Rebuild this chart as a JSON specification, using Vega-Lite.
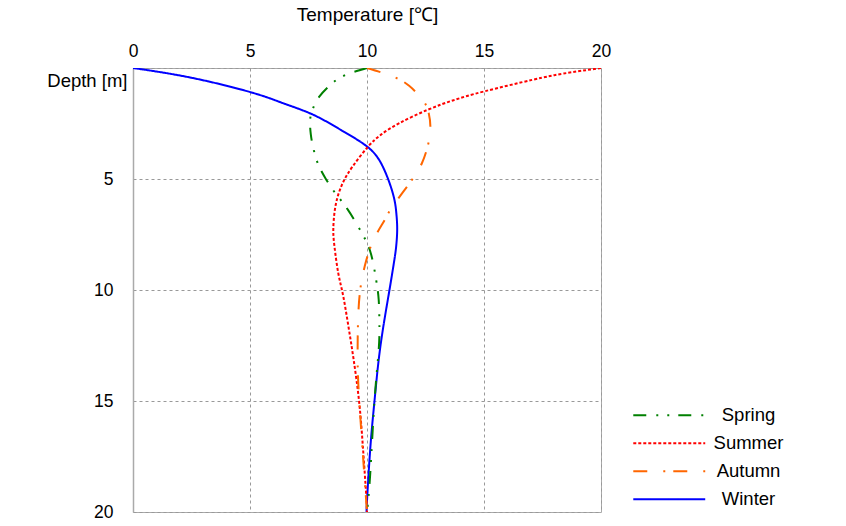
{
  "$schema": "https://vega.github.io/schema/vega-lite/v6.json",
  "autosize": "none",
  "width": 468,
  "height": 444,
  "padding": {"left": 133, "top": 68, "right": 245, "bottom": 14},
  "background": "white",
  "config": {
    "font": "Liberation Sans",
    "view": {"stroke": "#aaaaaa", "strokeWidth": 1}
  },
  "data": {
    "values": [
      {"season": "Winter", "depth": 0, "temp": 0},
      {"season": "Winter", "depth": 0.44, "temp": 2.5},
      {"season": "Winter", "depth": 1.1, "temp": 5.06},
      {"season": "Winter", "depth": 1.6, "temp": 6.45},
      {"season": "Winter", "depth": 2.1, "temp": 7.69},
      {"season": "Winter", "depth": 2.8, "temp": 8.9},
      {"season": "Winter", "depth": 3.56, "temp": 10.03},
      {"season": "Winter", "depth": 4.43, "temp": 10.67},
      {"season": "Winter", "depth": 5.63, "temp": 11.1},
      {"season": "Winter", "depth": 6.5, "temp": 11.25},
      {"season": "Winter", "depth": 7.28, "temp": 11.29},
      {"season": "Winter", "depth": 8.0, "temp": 11.25},
      {"season": "Winter", "depth": 8.64, "temp": 11.17},
      {"season": "Winter", "depth": 10, "temp": 10.96},
      {"season": "Winter", "depth": 11.5, "temp": 10.72},
      {"season": "Winter", "depth": 13.14, "temp": 10.5},
      {"season": "Winter", "depth": 15, "temp": 10.32},
      {"season": "Winter", "depth": 17, "temp": 10.15},
      {"season": "Winter", "depth": 19.3, "temp": 10.01},
      {"season": "Winter", "depth": 20, "temp": 9.98},
      {"season": "Summer", "depth": 0, "temp": 20},
      {"season": "Summer", "depth": 0.25, "temp": 18.4},
      {"season": "Summer", "depth": 0.53, "temp": 17.08},
      {"season": "Summer", "depth": 1.05, "temp": 15.02},
      {"season": "Summer", "depth": 1.45, "temp": 13.7},
      {"season": "Summer", "depth": 1.88, "temp": 12.6},
      {"season": "Summer", "depth": 2.48, "temp": 11.39},
      {"season": "Summer", "depth": 3.0, "temp": 10.6},
      {"season": "Summer", "depth": 3.56, "temp": 10.03},
      {"season": "Summer", "depth": 4.43, "temp": 9.39},
      {"season": "Summer", "depth": 5.1, "temp": 9.0},
      {"season": "Summer", "depth": 5.78, "temp": 8.75},
      {"season": "Summer", "depth": 6.52, "temp": 8.61},
      {"season": "Summer", "depth": 7.3, "temp": 8.56},
      {"season": "Summer", "depth": 8.04, "temp": 8.61},
      {"season": "Summer", "depth": 9.23, "temp": 8.77},
      {"season": "Summer", "depth": 10.2, "temp": 8.97},
      {"season": "Summer", "depth": 11.6, "temp": 9.2},
      {"season": "Summer", "depth": 13.14, "temp": 9.43},
      {"season": "Summer", "depth": 15, "temp": 9.66},
      {"season": "Summer", "depth": 17, "temp": 9.82},
      {"season": "Summer", "depth": 19.3, "temp": 9.97},
      {"season": "Summer", "depth": 20, "temp": 10},
      {"season": "Spring", "depth": 0, "temp": 10},
      {"season": "Spring", "depth": 0.3, "temp": 9.11},
      {"season": "Spring", "depth": 0.7, "temp": 8.5},
      {"season": "Spring", "depth": 1.28, "temp": 7.97},
      {"season": "Spring", "depth": 1.8, "temp": 7.7},
      {"season": "Spring", "depth": 2.33, "temp": 7.57},
      {"season": "Spring", "depth": 3.0, "temp": 7.6},
      {"season": "Spring", "depth": 3.53, "temp": 7.69},
      {"season": "Spring", "depth": 4.3, "temp": 7.9},
      {"season": "Spring", "depth": 5.03, "temp": 8.26},
      {"season": "Spring", "depth": 5.6, "temp": 8.62},
      {"season": "Spring", "depth": 6.38, "temp": 9.18},
      {"season": "Spring", "depth": 7.51, "temp": 9.82},
      {"season": "Spring", "depth": 8.41, "temp": 10.18},
      {"season": "Spring", "depth": 9.54, "temp": 10.39},
      {"season": "Spring", "depth": 10.44, "temp": 10.5},
      {"season": "Spring", "depth": 11.49, "temp": 10.53},
      {"season": "Spring", "depth": 12.7, "temp": 10.5},
      {"season": "Spring", "depth": 15, "temp": 10.32},
      {"season": "Spring", "depth": 18.24, "temp": 10.14},
      {"season": "Spring", "depth": 20, "temp": 10.0},
      {"season": "Autumn", "depth": 0, "temp": 10},
      {"season": "Autumn", "depth": 0.38, "temp": 11.1},
      {"season": "Autumn", "depth": 0.8, "temp": 11.8},
      {"season": "Autumn", "depth": 1.35, "temp": 12.31},
      {"season": "Autumn", "depth": 1.88, "temp": 12.6},
      {"season": "Autumn", "depth": 2.7, "temp": 12.71},
      {"season": "Autumn", "depth": 3.5, "temp": 12.6},
      {"season": "Autumn", "depth": 4.28, "temp": 12.35},
      {"season": "Autumn", "depth": 5.1, "temp": 11.88},
      {"season": "Autumn", "depth": 6.23, "temp": 11.1},
      {"season": "Autumn", "depth": 6.91, "temp": 10.72},
      {"season": "Autumn", "depth": 7.81, "temp": 10.25},
      {"season": "Autumn", "depth": 8.94, "temp": 9.9},
      {"season": "Autumn", "depth": 10, "temp": 9.71},
      {"season": "Autumn", "depth": 11.34, "temp": 9.62},
      {"season": "Autumn", "depth": 13.14, "temp": 9.6},
      {"season": "Autumn", "depth": 15, "temp": 9.67},
      {"season": "Autumn", "depth": 18.24, "temp": 9.88},
      {"season": "Autumn", "depth": 20, "temp": 10}
    ]
  },
  "mark": {"type": "line", "interpolate": "natural", "strokeWidth": 2, "clip": true},
  "encoding": {
    "x": {
      "field": "temp",
      "type": "quantitative",
      "scale": {"domain": [0, 20], "nice": false},
      "axis": {
        "orient": "top",
        "title": "Temperature [℃]",
        "titleFontSize": 19,
        "titleFontWeight": "normal",
        "titleColor": "black",
        "titleBaseline": "middle",
        "titleY": -54,
        "values": [0, 5, 10, 15, 20],
        "labelFontSize": 17.5,
        "labelColor": "black",
        "labelPadding": 8,
        "labelFlush": false,
        "ticks": false,
        "domain": false,
        "grid": true,
        "gridColor": "#999999",
        "gridDash": [3, 3],
        "gridWidth": 1
      }
    },
    "y": {
      "field": "depth",
      "type": "quantitative",
      "scale": {"domain": [0, 20], "nice": false, "reverse": true},
      "axis": {
        "title": "Depth [m]",
        "titleAngle": 0,
        "titleAlign": "right",
        "titleBaseline": "middle",
        "titleFontSize": 18.5,
        "titleFontWeight": "normal",
        "titleColor": "black",
        "titleX": -6,
        "titleY": 12,
        "values": [0, 5, 10, 15, 20],
        "labelExpr": "datum.value == 0 ? '' : datum.label",
        "labelFontSize": 17.5,
        "labelColor": "black",
        "labelPadding": 20,
        "labelFlush": false,
        "ticks": false,
        "domainColor": "#aaaaaa",
        "domainWidth": 1.5,
        "grid": true,
        "gridColor": "#999999",
        "gridDash": [3, 3],
        "gridWidth": 1
      }
    },
    "color": {
      "field": "season",
      "type": "nominal",
      "scale": {
        "domain": ["Spring", "Summer", "Autumn", "Winter"],
        "range": ["#008000", "#ff0000", "#ff6600", "#0000ff"]
      },
      "legend": {
        "title": null,
        "orient": "none",
        "legendX": 527,
        "legendY": 338,
        "padding": 0,
        "symbolType": "M-5,0H5",
        "symbolSize": 207,
        "symbolStrokeWidth": 2,
        "labelFontSize": 18.5,
        "labelColor": "black",
        "labelAlign": "center",
        "labelOffset": 70,
        "rowPadding": 9
      }
    },
    "strokeDash": {
      "field": "season",
      "type": "nominal",
      "scale": {
        "domain": ["Spring", "Summer", "Autumn", "Winter"],
        "range": [[13, 10, 2, 9, 2, 9], [3, 2], [14, 16, 2, 8], [1, 0]]
      },
      "legend": null
    },
    "order": {"field": "depth", "type": "quantitative"}
  }
}
